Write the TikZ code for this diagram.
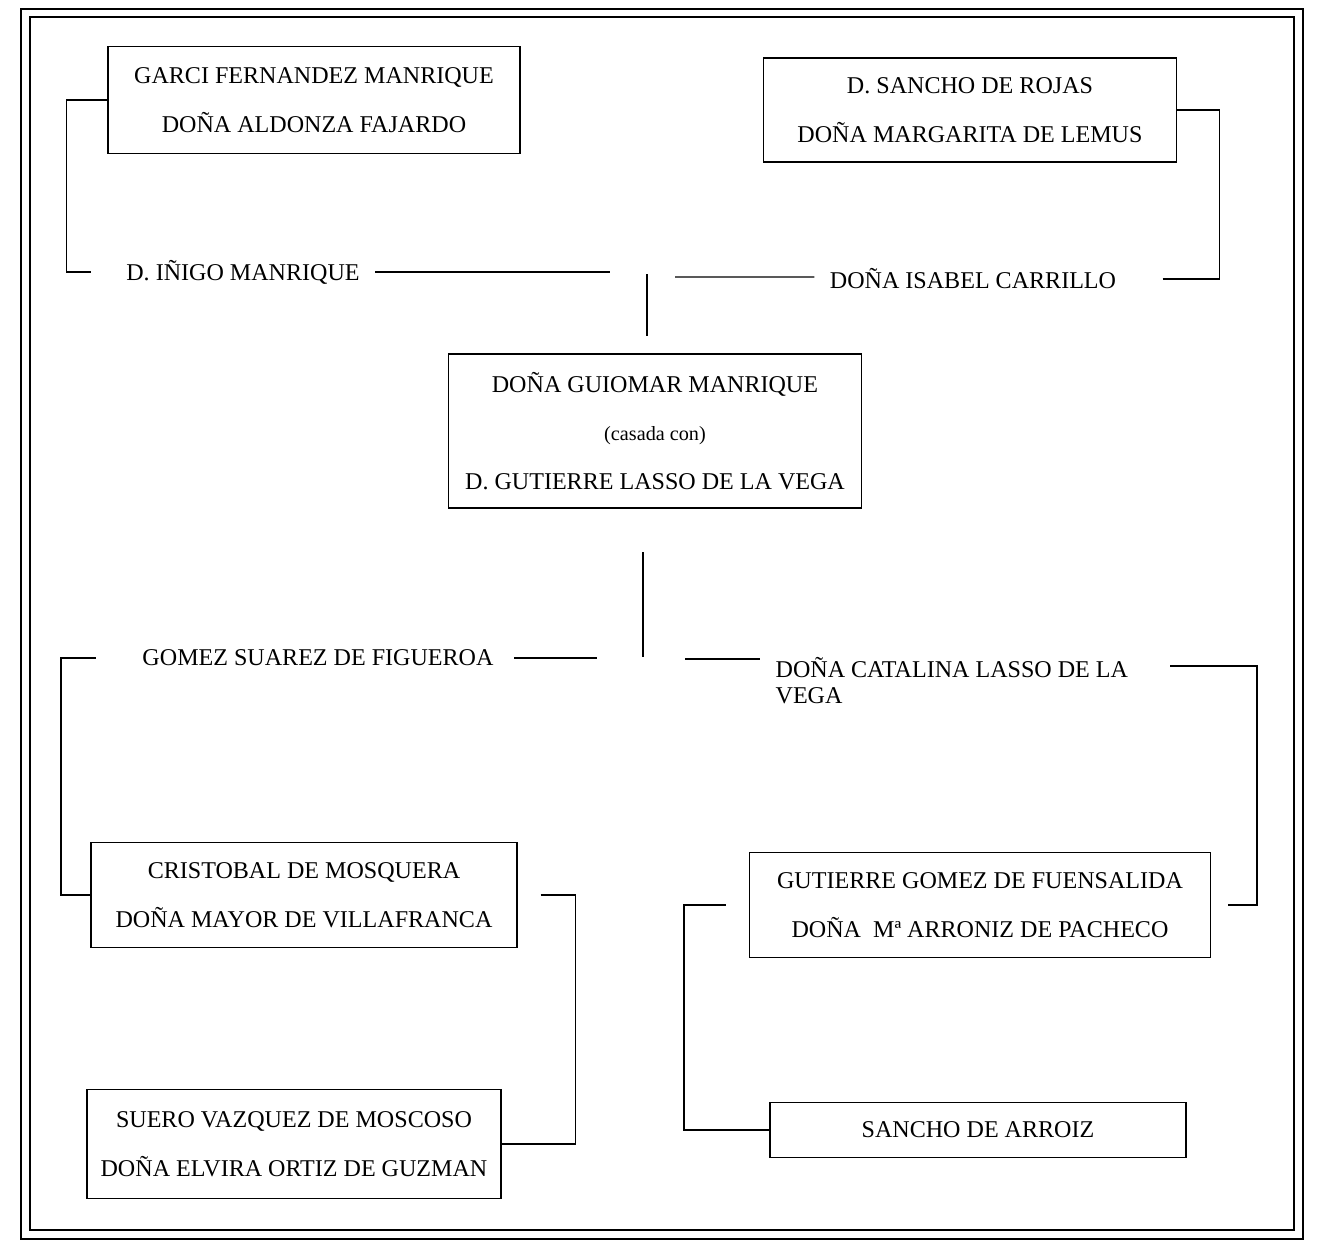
\documentclass[tikz,border=0pt]{standalone}
\usepackage{fontspec}
\setmainfont{Liberation Serif}
\begin{document}
\begin{tikzpicture}[x=0.02cm,y=-0.02cm,line width=0.7pt,
  casa/.style={draw,align=center,inner sep=0pt,font=\fontsize{13.7}{27.8}\selectfont},
  nombre/.style={inner sep=0pt,font=\fontsize{13.7}{16}\selectfont}]
\useasboundingbox (0,0) rectangle (1317,1245);

% Double frame
\draw[line width=0.9pt] (21,9) rectangle (1303,1239);
\draw[line width=0.9pt] (30,17) rectangle (1294,1230);

% Grandparents
\node[casa,minimum width=8.24cm,minimum height=2.14cm] (garci) at (314,100) {GARCI FERNANDEZ MANRIQUE\\DOÑA ALDONZA FAJARDO};
\node[casa,minimum width=8.26cm,minimum height=2.08cm] (sancho) at (970,110) {D. SANCHO DE ROJAS\\DOÑA MARGARITA DE LEMUS};

% Parents
\node[nombre] (inigo) at (243,272) {D. IÑIGO MANRIQUE};
\node[nombre] (isabel) at (973,279) {DOÑA ISABEL CARRILLO};
\coordinate (nudoA) at (610,272);
\coordinate (nudoB) at (675,277);
\coordinate (union1) at (647,274);

\draw (garci.west) -- ++(-41,0) |- ([xshift=-0.7cm]inigo.west);
\draw ([xshift=0.3cm]inigo.east) -- (nudoA);
\draw ([xshift=-0.3cm,yshift=0.04cm]isabel.west) -- (nudoB);
\draw ([xshift=0.92cm]isabel.east) -- ++(57,0) |- (sancho.east);
\draw (union1) -- ++(0,62);

% Marriage
\node[casa,minimum width=8.26cm,minimum height=3.08cm] (guiomar) at (655,431)
  {DOÑA GUIOMAR MANRIQUE\\{\fontsize{11.5}{27.8}\selectfont (casada con)}\\D. GUTIERRE LASSO DE LA VEGA};
\coordinate (union2) at (643,552);
\draw (union2) -- ++(0,105);

% Children
\node[nombre] (gomez) at (318,658) {GOMEZ SUAREZ DE FIGUEROA};
\node[nombre,align=left,anchor=north west,font=\fontsize{13.7}{14.7}\selectfont] (catalina) at (775,657) {DOÑA CATALINA LASSO DE LA\\VEGA};
\coordinate (nudoC) at (597,658);
\coordinate (nudoD) at (685,659);
\coordinate (nudoE) at (1170,666);

\draw ([xshift=0.4cm]gomez.east) -- (nudoC);
\draw (nudoD) -- ++(75,0);

% In-laws
\node[casa,minimum width=8.52cm,minimum height=2.10cm] (cristobal) at (304,895) {CRISTOBAL DE MOSQUERA\\DOÑA MAYOR DE VILLAFRANCA};
\node[casa,minimum width=9.22cm,minimum height=2.10cm] (gutierre) at (980,905) {GUTIERRE GOMEZ DE FUENSALIDA\\DOÑA~~Mª ARRONIZ DE PACHECO};
\node[casa,minimum width=8.28cm,minimum height=2.18cm] (suero) at (294,1144) {SUERO VAZQUEZ DE MOSCOSO\\DOÑA ELVIRA ORTIZ DE GUZMAN};
\node[casa,minimum width=8.32cm,minimum height=1.10cm] (arroiz) at (978,1130) {SANCHO DE ARROIZ};

\draw (nudoE) -- ++(87,0) |- ([xshift=0.34cm]gutierre.east);
\draw ([xshift=-0.92cm]gomez.west) -- ++(-35,0) |- (cristobal.west);
\draw ([xshift=0.46cm]cristobal.east) -- ++(35,0) |- (suero.east);
\draw ([xshift=-0.46cm]gutierre.west) -- ++(-42,0) |- (arroiz.west);

\end{tikzpicture}
\end{document}
